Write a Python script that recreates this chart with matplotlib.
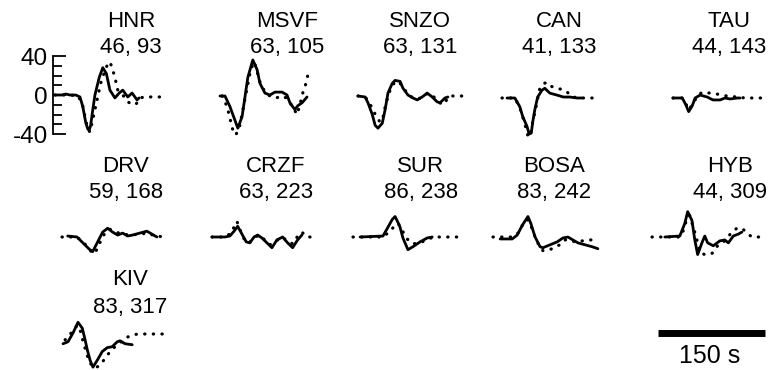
import matplotlib
matplotlib.use('Agg')
import matplotlib.pyplot as plt

plt.rcParams['font.family'] = ['Liberation Sans', 'DejaVu Sans']

# Station names and "distance, azimuth" labels
stations = ['HNR', 'MSVF', 'SNZO', 'CAN', 'TAU',
            'DRV', 'CRZF', 'SUR', 'BOSA', 'HYB', 'KIV']
dist_az = ['46, 93', '63, 105', '63, 131', '41, 133', '44, 143',
           '59, 168', '63, 223', '86, 238', '83, 242', '44, 309', '83, 317']

# Waveforms as (time s, amplitude) pairs: observed = solid, synthetic = dotted
hnr_obs = [(0, 0), (10, 0), (15, 1), (21, 0), (29, 0), (35, -2), (39, -12), (43, -28),
           (46, -35), (48, -36), (50, -31), (53, -15), (56, 0), (62, 18), (67, 28),
           (72, 22), (77, 5), (84, -3), (90, 2), (95, 5), (102, -2), (108, 2),
           (115, -5), (118, -3)]
hnr_syn = [(0, 0), (10, 0), (21, 0), (32, -1), (38, -8), (42, -22), (46, -35), (49, -38),
           (53, -25), (59, -5), (64, 12), (70, 25), (74, 32), (77, 34), (80, 28),
           (84, 18), (88, 5), (95, 0), (102, -7), (109, -10), (114, -9), (119, -3),
           (126, -2), (157, -2)]
msvf_obs = [(0, 0), (7, 0), (14, -11), (21, -25), (25, -33), (31, -21), (35, -1),
            (39, 19), (46, 37), (52, 27), (56, 13), (63, 3), (70, 1), (77, 4), (87, 4),
            (94, 1), (98, -7), (105, -14), (109, -10), (115, -7), (122, -1)]
msvf_syn = [(3, 0), (10, -11), (14, -23), (18, -35), (22, -40), (27, -33), (31, -18),
            (35, -3), (39, 12), (43, 27), (48, 35), (52, 25), (57, 12), (64, 3), (72, -1),
            (79, -2), (86, 0), (93, -2), (101, -10), (108, -19), (112, -9), (116, 3),
            (121, 14), (123, 21)]
snzo_obs = [(0, 0), (10, -1), (14, -7), (20, -19), (24, -30), (28, -33), (34, -28),
            (38, -14), (42, 3), (48, 13), (52, 16), (59, 15), (63, 8), (70, 1), (77, -2),
            (83, -4), (90, -1), (97, 3), (104, -1), (111, -6), (115, -7), (122, -2),
            (126, -1)]
snzo_syn = [(0, 0), (11, -2), (17, -8), (21, -15), (27, -22), (31, -27), (35, -22),
            (39, -8), (45, 6), (52, 15), (59, 13), (63, 9), (70, 2), (77, -2), (84, -3),
            (91, -1), (98, 3), (105, 0), (112, -5), (118, -9), (122, -6), (129, 0),
            (150, 0)]
can_obs = [(7, 0), (18, 0), (25, -9), (29, -19), (35, -29), (38, -37), (41, -36),
           (43, -25), (46, -12), (50, 1), (56, 8), (60, 10), (67, 5), (77, 3), (86, 1),
           (95, 1), (105, 0), (112, 0)]
can_syn = [(0, 0), (18, 0), (25, -10), (31, -24), (36, -38), (39, -40), (43, -25),
           (48, -8), (53, 10), (59, 15), (63, 16), (69, 12), (76, 10), (83, 9), (90, 7),
           (97, 2), (105, 0), (133, 0)]
tau_obs = [(0, 0), (13, 0), (18, -7), (22, -14), (27, -8), (31, 0), (38, 3), (48, 1),
           (56, -2), (66, -2), (73, 0), (80, -1), (90, 0), (94, 0)]
tau_syn = [(0, 0), (13, 0), (18, -6), (22, -12), (28, -6), (34, 2), (41, 6), (52, 5),
           (62, 4), (76, 2), (90, 1), (101, 0), (132, 0)]
drv_obs = [(8, 1), (21, 0), (32, -8), (39, -13), (43, -15), (50, -5), (57, 5), (64, 9),
           (71, 5), (78, 2), (85, 4), (92, 1), (99, 2), (109, 4), (119, 6), (126, 3),
           (133, 0)]
drv_syn = [(0, 0), (21, 0), (32, -7), (41, -15), (46, -17), (53, -6), (60, 4), (67, 8),
           (76, 5), (84, 3), (95, 2), (109, 3), (121, 4), (130, 1), (147, 0)]
crzf_obs = [(0, 0), (18, 0), (25, 1), (31, 6), (36, 11), (42, 3), (48, -5), (53, -6),
            (59, 0), (64, 2), (70, -1), (77, -6), (84, -11), (91, -3), (99, 0),
            (106, -6), (113, -11), (120, -3), (126, 2)]
crzf_syn = [(0, 0), (18, 0), (27, 4), (32, 12), (35, 16), (39, 8), (45, -2), (52, -6),
            (59, -1), (66, 2), (74, -3), (81, -8), (90, -4), (98, 0), (106, -4),
            (113, -7), (122, 3), (126, 5), (133, 0), (147, 0)]
sur_obs = [(10, 0), (42, 1), (49, 10), (55, 18), (59, 21), (63, 15), (66, 10), (70, -1),
           (77, -13), (84, -10), (94, -5), (104, -1), (111, 0)]
sur_syn = [(0, 0), (42, 0), (52, 6), (59, 12), (63, 14), (67, 10), (71, 4), (76, -2),
           (81, -6), (88, -7), (97, -5), (105, -2), (114, 0), (147, 0)]
bosa_obs = [(10, -2), (27, -2), (34, 2), (41, 12), (49, 21), (53, 14), (59, 0),
            (66, -10), (70, -11), (80, -8), (90, -5), (98, -1), (105, 0), (112, -3),
            (119, -6), (129, -8), (139, -10), (147, -12)]
bosa_syn = [(0, 0), (27, 0), (35, 4), (42, 13), (48, 18), (53, 12), (59, 0), (66, -11),
            (70, -14), (80, -13), (87, -10), (94, -8), (101, -3), (108, -3), (115, -5),
            (125, -4), (136, -3), (147, -3)]
hyb_obs = [(18, 0), (39, 1), (46, 14), (50, 26), (56, 17), (60, -3), (64, -18), (70, -6),
           (74, 1), (78, -6), (86, -9), (95, -4), (102, -3), (107, -6), (114, 1),
           (121, 3), (126, 5)]
hyb_syn = [(0, 0), (39, 0), (45, 8), (49, 20), (53, 22), (57, 12), (62, 0), (67, -16),
           (74, -18), (84, -17), (93, -8), (102, -4), (112, 5), (119, 9), (126, 9),
           (135, 3), (140, 0), (151, 0)]
kiv_obs = [(0, -10), (7, -8), (14, 1), (21, 12), (27, 6), (31, -6), (34, -16), (38, -27),
           (42, -34), (48, -27), (55, -18), (62, -14), (69, -13), (76, -8), (80, -7),
           (87, -10), (97, -11)]
kiv_syn = [(3, -6), (7, -2), (13, 2), (20, 9), (24, 4), (29, -10), (34, -22), (38, -30),
           (45, -35), (52, -32), (59, -25), (66, -18), (73, -13), (83, -7), (91, -3),
           (98, -1), (105, 0), (147, 0)]

obs = [hnr_obs, msvf_obs, snzo_obs, can_obs, tau_obs,
       drv_obs, crzf_obs, sur_obs, bosa_obs, hyb_obs, kiv_obs]
syn = [hnr_syn, msvf_syn, snzo_syn, can_syn, tau_syn,
       drv_syn, crzf_syn, sur_syn, bosa_syn, hyb_syn, kiv_syn]

scale_len = 150  # seconds

# ---- layout (pixels in the 771x370 picture) ----
W, H = 771, 370
SX = 107 / 150   # px per second
SY = 39 / 40     # px per amplitude unit
T_LO, T_HI = -4, 176
A_LO, A_HI = -48, 48

trace_x0 = [55, 220, 358, 502, 673, 62, 212, 353, 493, 652, 63]
trace_y0 = [95, 96, 96, 98, 98, 237, 237, 237, 237, 237, 334]
label_x = [131, 287, 420, 559, 729, 126, 276, 421, 554, 730, 130]
name_y = [27] * 5 + [172] * 5 + [285]
num_y = [53] * 5 + [198] * 5 + [313]

fig = plt.figure(figsize=(W / 100, H / 100), dpi=100)


def trace_axes(x0, y0):
    # axes whose t=0 / amplitude=0 falls on pixel (x0, y0)
    left = x0 + T_LO * SX
    top = y0 - A_HI * SY
    w = (T_HI - T_LO) * SX
    h = (A_HI - A_LO) * SY
    ax = fig.add_axes([left / W, 1 - (top + h) / H, w / W, h / H])
    ax.set_xlim(T_LO, T_HI)
    ax.set_ylim(A_LO, A_HI)
    ax.patch.set_alpha(0)
    for s in ax.spines.values():
        s.set_visible(False)
    ax.set_xticks([])
    ax.set_yticks([])
    return ax


for i, name in enumerate(stations):
    ax = trace_axes(trace_x0[i], trace_y0[i])
    t, a = zip(*syn[i])
    ax.plot(t, a, color='k', lw=2.3, ls=(0, (0.1, 2.6)), dash_capstyle='round',
            clip_on=False)
    t, a = zip(*obs[i])
    ax.plot(t, a, color='k', lw=2.0, solid_joinstyle='round', solid_capstyle='round',
            clip_on=False)

    if i == 0:
        # amplitude axis on the first station
        sp = ax.spines['left']
        sp.set_visible(True)
        sp.set_position(('data', -3))
        sp.set_bounds(-40, 40)
        sp.set_linewidth(1.3)
        ax.set_yticks([-40, 0, 40])
        ax.set_yticklabels(['-40', '0', '40'])
        ax.set_yticks([-30, -20, -10, 10, 20, 30], minor=True)
        ax.tick_params(axis='y', which='major', direction='in', length=9.5,
                       width=1.3, labelsize=17.5, pad=3.5)
        ax.tick_params(axis='y', which='minor', direction='in', length=6.5,
                       width=1.3)

    fig.text(label_x[i] / W, 1 - name_y[i] / H, name, ha='center', va='baseline',
             fontsize=16)
    fig.text(label_x[i] / W, 1 - num_y[i] / H, dist_az[i], ha='center', va='baseline',
             fontsize=16)

# time scale bar
ax = trace_axes(658, 333.5)
ax.plot([0, scale_len], [0, 0], color='k', lw=5, solid_capstyle='butt', clip_on=False)
ax.text(scale_len / 2 - 2, -30.3, f'{scale_len} s', ha='center', va='baseline',
        fontsize=18)

fig.savefig('out.png', dpi=100)
